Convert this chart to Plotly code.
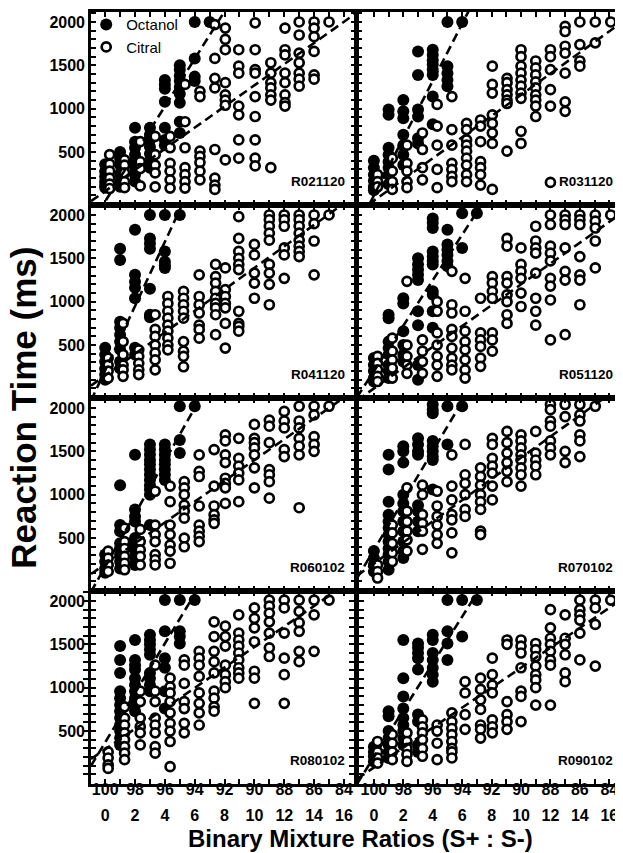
import plotly.graph_objects as go

PANELS = ["R021120", "R031120", "R041120", "R051120",
          "R060102", "R070102", "R080102", "R090102"]

# Reaction times (ms) read per x column (x = % of S- in the mixture)
OCT_R021120 = {0: [360, 280, 220, 160, 120, 90], 1: [500, 420, 350, 250, 160, 100],
               2: [780, 620, 550, 470, 400, 320, 240, 160], 3: [780, 700, 640, 560, 480, 400, 320],
               4: [1330, 1280, 1230, 1080, 780, 640, 580],
               5: [1500, 1450, 1380, 1320, 1250, 1170, 1070, 850, 720],
               6: [2000, 1580, 1370, 1320], 7: [2000]}
CIT_R021120 = {0.3: [470, 360, 280, 200, 130, 80], 1.3: [410, 350, 260, 160, 90],
               2.35: [620, 390, 310, 110], 3.35: [680, 470, 350, 260, 100],
               4.35: [680, 550, 370, 280, 180, 85], 5.35: [1280, 850, 550, 320, 240, 160, 85],
               6.35: [1200, 1140, 510, 450, 380, 280, 180],
               7.35: [1970, 1580, 1350, 1240, 530, 200, 120, 70],
               8.05: [1930, 1800, 1680, 1300, 1160, 1100, 1040, 410],
               8.95: [1680, 1490, 1410, 1030, 930, 640, 430],
               10.05: [1990, 1680, 1450, 1410, 1140, 910, 640, 430, 340],
               11.1: [1530, 1410, 1300, 1240, 1160, 1100, 320],
               12.05: [1930, 1680, 1620, 1410, 1300, 1160, 1070, 1030],
               13: [2000, 1850, 1640, 1530, 1410, 1340, 1260],
               14: [2000, 1930, 1830, 1660, 1390, 1340], 15: [2000]}

OCT_R031120 = {0: [400, 320, 240, 170, 100, 60], 1: [990, 930, 550, 470, 390, 320, 240, 130],
               2: [1100, 970, 890, 700, 580, 470, 350], 3: [1660, 1390, 990, 910, 660, 600],
               4: [1680, 1620, 1560, 1510, 1450, 1390, 1140, 820],
               5: [2000, 1490, 1410, 1330, 1260], 6: [2000]}
CIT_R031120 = {0.25: [240, 160, 100], 1.25: [430, 280, 160, 70], 2.25: [580, 370, 280, 160, 90],
               3.3: [720, 530, 320, 180], 4.3: [1050, 800, 580, 300, 90],
               5.3: [1140, 760, 580, 370, 300, 220, 160],
               6.3: [830, 760, 640, 580, 510, 430, 350, 240, 160],
               7.25: [870, 800, 620, 390, 320, 240, 120],
               8.05: [1490, 1280, 1180, 930, 830, 720, 600, 70],
               9.05: [1350, 1300, 1220, 1160, 1100, 1060, 510],
               10: [1680, 1600, 1490, 1410, 1330, 1260, 1180, 1120, 740, 600],
               11: [1550, 1470, 1390, 1310, 1240, 1160, 1100, 1030, 910],
               12: [1680, 1600, 1450, 1220, 1030, 150],
               13: [1950, 1890, 1720, 1640, 1410, 1080, 970],
               14: [2000, 1740, 1550, 1490], 15.05: [2000, 1760], 16.1: [2000]}

OCT_R041120 = {0: [470, 390, 310, 230, 160, 100],
               1: [1610, 1480, 770, 700, 620, 540, 450, 310, 230],
               2: [1830, 1310, 1230, 1160, 1040, 470, 390],
               3: [2000, 1730, 1670, 1610, 1150, 850, 820],
               4: [2000, 1580, 1460, 1420, 1390], 5: [2000]}
CIT_R041120 = {0.2: [350, 270, 200, 120], 1.2: [750, 540, 390, 270, 215, 140],
               2.25: [445, 370, 290, 215, 160], 3.35: [850, 680, 600, 500, 410, 330, 215],
               4.2: [1060, 980, 890, 810, 730, 660, 580, 500, 445],
               5.25: [1120, 1040, 965, 890, 810, 540, 430, 370, 250],
               6.3: [1310, 1060, 965, 870, 730, 680, 580],
               7.4: [1430, 1290, 1215, 1120, 1040, 980, 930, 850, 620],
               8.05: [1390, 1140, 1060, 980, 930, 750, 465],
               8.95: [1980, 1730, 1580, 1500, 1430, 1370, 890, 750, 715, 660],
               10: [1660, 1540, 1330, 1215, 1040],
               11: [2000, 1945, 1870, 1790, 1710, 1430, 1330, 1200, 965],
               12: [2000, 1945, 1870, 1620, 1540, 1270],
               13: [2000, 1945, 1870, 1790, 1710, 1640, 1580, 1520],
               14: [2000, 1900, 1700, 1310], 15: [2000]}

OCT_R051120 = {0: [350, 270, 200, 120, 80], 1: [850, 810, 540, 465, 390, 270, 200, 120],
               2: [1040, 980, 660, 500, 390, 310],
               3: [1500, 1430, 1370, 1310, 1250, 890, 730, 270, 100],
               4: [1960, 1910, 1850, 1580, 1520, 1470, 1430, 1120, 1080, 890, 700],
               5: [1830, 1660, 1600, 1540, 1470, 1410], 6: [2020, 1620], 7: [2020]}
CIT_R051120 = {0.25: [370, 290, 215, 140, 80], 1.25: [580, 430, 330, 235, 120],
               2.25: [1235, 500, 370, 270, 175], 3.3: [560, 430, 310, 175],
               4.3: [1000, 890, 640, 500, 370, 270, 140],
               5.3: [1350, 965, 870, 680, 600, 465, 350, 270, 215],
               6.2: [1270, 890, 660, 540, 445, 330, 215, 120],
               7.25: [1040, 640, 560, 485, 350, 255],
               8.05: [1290, 1215, 1120, 1040, 640, 560, 430],
               9.05: [1730, 1640, 1290, 1215, 1080, 1000, 850, 750],
               10: [1620, 1430, 1350, 1270, 1100, 945],
               11: [1870, 1700, 1620, 1560, 1330, 1040, 890, 730],
               12: [2000, 1890, 1640, 1560, 1470, 1270, 1180, 1020, 560],
               13: [2000, 1945, 1890, 1620, 1350, 1250, 620],
               14: [2000, 1945, 1890, 1520, 1310, 1250, 965],
               15.05: [2000, 1930, 1850, 1700, 1390], 16.1: [2000]}

OCT_R060102 = {0: [310, 230, 150, 100], 1: [1110, 650, 580, 440, 380, 310, 230, 150],
               2: [1460, 830, 750, 690, 500, 420, 350, 270, 190],
               3: [1580, 1520, 1460, 1400, 1350, 1290, 1230, 1170, 1110, 1060, 1000, 650],
               4: [1580, 1520, 1460, 1400, 1350, 1290, 1230, 1170],
               5: [2020, 1630, 1480], 6: [2020]}
CIT_R060102 = {0.2: [350, 270, 190, 115], 1.3: [615, 460, 380, 290, 210, 135],
               2.35: [600, 460, 365, 290, 190], 3.35: [1040, 650, 540, 460, 310, 250, 190],
               4.35: [1100, 920, 650, 540, 420, 350, 210],
               5.3: [1150, 1080, 1000, 880, 810, 730, 500, 400],
               6.3: [1460, 1270, 1210, 870, 650, 580, 520, 460],
               7.3: [1520, 1100, 870, 770, 710, 670],
               8.05: [1690, 1620, 1460, 1370, 1190, 1130, 1080, 900],
               8.95: [1650, 1420, 1330, 1250, 1170, 920],
               10: [1810, 1650, 1600, 1540, 1460, 1310, 1080],
               11: [1860, 1790, 1600, 1290, 1230, 1150, 960],
               12: [1960, 1850, 1770, 1520, 1440],
               13: [2020, 1850, 1770, 1650, 1560, 1460, 850],
               14: [2020, 1920, 1670, 1580, 1500], 15: [2020]}

OCT_R070102 = {0: [350, 270, 190, 115],
               1: [1460, 1290, 920, 770, 690, 615, 540, 460, 380, 310, 230, 135],
               2: [1560, 1500, 1370, 1000, 900, 810, 690, 580, 460, 350, 270],
               3: [1650, 1580, 1500, 1460, 880, 810, 690, 580],
               4: [2040, 1980, 1940, 1620, 1560, 1500, 1440, 1400, 1060],
               5: [2020, 1580], 6: [2020]}
CIT_R070102 = {0.25: [190, 115, 40], 1.25: [650, 560, 440, 330, 230],
               2.25: [1080, 810, 690, 580, 480, 350], 3.3: [1110, 1000, 770, 670, 580, 370],
               4.3: [1040, 870, 750, 650, 540, 440],
               5.3: [1460, 1100, 940, 770, 710, 560, 330],
               6.2: [1580, 1230, 1130, 1000, 830, 750],
               7.25: [1310, 1210, 1110, 1000, 920, 830, 580, 540],
               8.05: [1650, 1580, 1420, 1330, 1250, 1100, 940],
               9.05: [1730, 1600, 1480, 1370, 1270, 1150],
               10: [1690, 1620, 1540, 1460, 1400, 1310, 1230, 1100],
               11: [1730, 1480, 1400, 1330, 1230],
               12: [2040, 1980, 1850, 1790, 1620, 1540, 1460],
               13: [2040, 1900, 1500, 1370],
               14: [2040, 1920, 1850, 1690, 1620, 1440], 15.05: [2020]}

OCT_R080102 = {1: [1480, 1320, 1170, 960, 880, 800, 730, 650, 570, 500, 420, 340],
               2: [1550, 1320, 1260, 1210, 1110, 1030, 960, 880, 800, 730],
               3: [1610, 1550, 1500, 1440, 1380, 1170, 1110, 1030, 960],
               4: [2010, 1650, 1340, 1230, 960, 760],
               5: [2010, 1650, 1590, 1510], 6: [2010]}
CIT_R080102 = {0.2: [260, 190, 110, 70], 1.3: [780, 650, 570, 480, 400, 320, 245, 170],
               2.35: [960, 840, 650, 550, 480, 340],
               3.35: [1260, 960, 840, 650, 570, 480, 320, 245],
               4.35: [1110, 1010, 940, 840, 710, 590, 500, 380, 90],
               5.3: [1320, 1260, 1050, 840, 760, 590, 480],
               6.3: [1420, 1340, 1260, 1130, 940, 820, 710, 570],
               7.3: [1760, 1590, 1420, 1300, 1170, 960, 880, 780, 730],
               8.05: [1710, 1590, 1480, 1260, 1150, 1070, 1000],
               8.95: [1840, 1630, 1550, 1480, 1400, 1320, 1230, 1170, 1110],
               10: [1920, 1800, 1690, 1530, 1190, 1110, 820],
               11: [2010, 1940, 1860, 1760, 1630, 1460, 1360],
               12: [2010, 1920, 1630, 1340, 1150, 820],
               13: [2010, 1880, 1750, 1650, 1420, 1300],
               14: [2010, 1840, 1420], 15: [2010]}

OCT_R090102 = {0: [320, 260, 210, 150], 1: [730, 670, 500, 420, 340, 260, 190],
               2: [1550, 1110, 900, 760, 650, 570, 500, 420, 340],
               3: [1510, 1460, 1400, 1340, 1210, 690, 610, 340, 260],
               4: [1610, 1550, 1400, 1320, 1230, 1150, 1070],
               5: [2010, 1650, 1510, 1320], 6: [2010, 1590], 7: [2010]}
CIT_R090102 = {0.25: [380, 260, 190, 130], 1.25: [460, 360, 260, 170],
               2.25: [480, 380, 300, 230, 150], 3.3: [630, 550, 480, 400, 300, 210],
               4.3: [570, 500, 360, 170], 5.3: [710, 610, 530, 460, 380, 300, 260, 190],
               6.2: [1070, 940, 690, 520], 7.25: [1110, 980, 860, 750, 570, 520, 420],
               8.05: [1340, 1150, 1030, 940, 630, 550, 480],
               9.05: [1550, 1500, 840, 690, 610, 520],
               10: [1550, 1480, 1400, 1230, 960, 900, 610],
               11: [1510, 1440, 1360, 1250, 1150, 1090, 1000, 800],
               12: [1900, 1690, 1570, 1500, 1420, 1320, 1260, 800],
               13: [1840, 1570, 1500, 1380, 1170, 1070],
               14: [2010, 1900, 1840, 1780, 1630, 1320],
               15.05: [2010, 1920, 1730, 1250], 16.1: [2010]}

OCTANOL = [OCT_R021120, OCT_R031120, OCT_R041120, OCT_R051120,
           OCT_R060102, OCT_R070102, OCT_R080102, OCT_R090102]
CITRAL = [CIT_R021120, CIT_R031120, CIT_R041120, CIT_R051120,
          CIT_R060102, CIT_R070102, CIT_R080102, CIT_R090102]

# Regression lines (intercept ms, slope ms per % S-)
OCT_INTERCEPT = [-69, 0, 210, 200, 170, 363, 370, 200]
OCT_SLOPE = [274, 330, 370, 262, 305, 285, 285, 270]
CIT_INTERCEPT = [50, -60, 150, 0, 200, 206, 290, 80]
CIT_SLOPE = [122, 122, 124, 120, 120, 122, 118, 115]

X_TICKS = list(range(0, 17))
TOP_LABELS = [str(100 - v) if v % 2 == 0 else "" for v in X_TICKS]
BOTTOM_LABELS = [str(v) if v % 2 == 0 else "" for v in X_TICKS]
Y_TICKS = list(range(0, 2101, 100))
Y_LABELS = [str(v) if v in (500, 1000, 1500, 2000) else "" for v in Y_TICKS]

XR_LEFT = [-0.95, 16.8]
XR_RIGHT = [-1.15, 17.0]
YR = [-110, 2115]

BOLD = "Liberation Sans, Arial, sans-serif"
NARROW = "Liberation Sans Narrow, Arial Narrow, Liberation Sans, Arial, sans-serif"


def expand(cols):
    xs, ys = [], []
    for x, vals in cols.items():
        for v in vals:
            xs.append(x)
            ys.append(v)
    return xs, ys


fig = go.Figure()
layout = {}

for i, name in enumerate(PANELS):
    row, col = divmod(i, 2)
    n = i + 1
    xa = "x" if n == 1 else f"x{n}"
    ya = "y" if n == 1 else f"y{n}"
    xkey = "xaxis" if n == 1 else f"xaxis{n}"
    ykey = "yaxis" if n == 1 else f"yaxis{n}"
    xr = XR_LEFT if col == 0 else XR_RIGHT

    ox, oy = expand(OCTANOL[i])
    cx, cy = expand(CITRAL[i])
    fig.add_trace(go.Scatter(x=ox, y=oy, mode="markers", xaxis=xa, yaxis=ya,
                             name="Octanol", showlegend=(i == 0), cliponaxis=True,
                             marker=dict(symbol="circle", size=12, color="black",
                                         line=dict(width=0))))
    fig.add_trace(go.Scatter(x=cx, y=cy, mode="markers", xaxis=xa, yaxis=ya,
                             name="Citral", showlegend=(i == 0), cliponaxis=True,
                             marker=dict(symbol="circle", size=9, color="white",
                                         line=dict(width=2.7, color="black"))))
    for a, b in ((OCT_INTERCEPT[i], OCT_SLOPE[i]), (CIT_INTERCEPT[i], CIT_SLOPE[i])):
        fig.add_trace(go.Scatter(x=xr, y=[a + b * xr[0], a + b * xr[1]], mode="lines",
                                 xaxis=xa, yaxis=ya, showlegend=False, hoverinfo="skip",
                                 line=dict(color="black", width=2.6, dash="9px,5px")))

    xdom = [0, 0.497] if col == 0 else [0.499, 1]
    ydom = [1 - (row + 1) * 0.25, 1 - row * 0.25]
    bottom = row == 3
    layout[xkey] = dict(domain=xdom, anchor=ya, range=xr, tickmode="array",
                        tickvals=X_TICKS, ticktext=TOP_LABELS, showticklabels=bottom,
                        ticks="inside", ticklen=5, tickwidth=1.8, tickcolor="black",
                        showline=True, linewidth=2.6, linecolor="black", mirror="allticks",
                        showgrid=False, zeroline=False, ticklabelstandoff=-11,
                        tickfont=dict(family=NARROW, size=16, color="black", weight="bold"))
    layout[ykey] = dict(domain=ydom, anchor=xa, range=YR, tickmode="array",
                        tickvals=Y_TICKS, ticktext=Y_LABELS, showticklabels=(col == 0),
                        ticks="inside", ticklen=5, tickwidth=1.8, tickcolor="black",
                        showline=True, linewidth=2.6, linecolor="black", mirror="allticks",
                        showgrid=False, zeroline=False,
                        tickfont=dict(family=BOLD, size=16, color="black", weight="bold"))
    fig.add_annotation(text=name, xref=f"{xa} domain", yref=f"{ya} domain",
                       x=0.966, y=0.124, xanchor="right", yanchor="middle", showarrow=False,
                       font=dict(family=BOLD, size=13.5, color="black", weight="bold"))

# second row of x tick labels (S- percentage) on the bottom panels
for n, base, ya, xr in ((9, "x7", "y7", XR_LEFT), (10, "x8", "y8", XR_RIGHT)):
    fig.add_trace(go.Scatter(x=[None], y=[None], xaxis=f"x{n}", yaxis=ya,
                             showlegend=False, hoverinfo="skip"))
    layout[f"xaxis{n}"] = dict(overlaying=base, anchor=ya, side="bottom", range=xr,
                               tickmode="array", tickvals=X_TICKS, ticktext=BOTTOM_LABELS,
                               ticks="", showline=False, showgrid=False, zeroline=False,
                               ticklabelstandoff=20,
                               tickfont=dict(family=NARROW, size=16, color="black",
                                             weight="bold"))

fig.update_layout(**layout)
fig.update_layout(
    width=623, height=853,
    margin=dict(l=83, r=7, t=4, b=77, autoexpand=False),
    paper_bgcolor="white", plot_bgcolor="white",
    showlegend=True,
    legend=dict(x=-0.009, y=1.005, xanchor="left", yanchor="top",
                bgcolor="rgba(0,0,0,0)", tracegroupgap=0,
                font=dict(family=NARROW, size=15, color="black")),
)
fig.add_annotation(text="Reaction Time (ms)", xref="paper", yref="paper",
                   x=-0.128, y=0.487, xanchor="center", yanchor="middle", textangle=-90,
                   showarrow=False,
                   font=dict(family=BOLD, size=35, color="black", weight="bold"))
fig.add_annotation(text="Binary Mixture Ratios (S+ : S-)", xref="paper", yref="paper",
                   x=0.505, y=-0.071, xanchor="center", yanchor="middle", showarrow=False,
                   font=dict(family=NARROW, size=24, color="black", weight="bold"))

fig.write_html("out.html")
